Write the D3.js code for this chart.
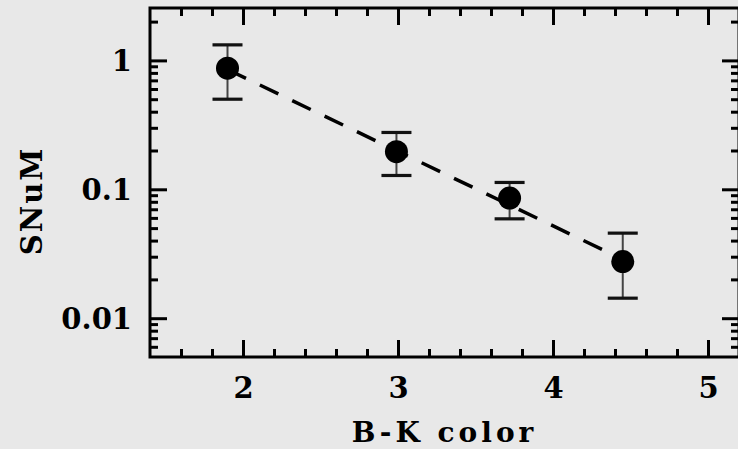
<!DOCTYPE html>
<html>
<head>
<meta charset="utf-8">
<script src="https://cdn.jsdelivr.net/npm/d3@7"></script>
<style>
  html, body { margin: 0; padding: 0; background: #e8e8e8; }
  svg { display: block; }
  .lbl { font-family: "DejaVu Serif", serif; font-weight: bold; fill: #000; }
</style>
</head>
<body>
<svg id="chart" width="738" height="449"></svg>
<script>
// SN rate per unit mass versus galaxy B-K colour
const colorBK = [1.9, 2.99, 3.72, 4.45];
const snum    = [0.87, 0.196, 0.0855, 0.0275];
const errHi   = [1.32, 0.276, 0.113, 0.0457];
const errLo   = [0.50, 0.128, 0.059, 0.0143];

// straight-line fit (log SNuM vs colour)
const fitX = [1.9, 4.45];
const fitY = [0.85, 0.0286];

const xMajor = [2, 3, 4, 5];
const xTickLabels = ["2", "3", "4", "5"];
const yMajor = [0.01, 0.1, 1];
const yTickLabels = ["0.01", "0.1", "1"];

const xLabel = "B-K color";
const yLabel = "SNuM";

(function draw() {
  const W = 738, H = 449;
  const mLeft = 150, mRight = 739, mTop = 8, mBottom = 357;

  const svg = d3.select("#chart");
  svg.append("rect").attr("width", W).attr("height", H).attr("fill", "#e8e8e8");

  const x = d3.scaleLinear().domain([1.4, 5.2]).range([mLeft, mRight]);
  const y = d3.scaleLog().domain([0.005, 2.55]).range([mBottom, mTop]);

  // minor tick positions
  const xMinor = d3.range(1.6, 5.2, 0.2).map(v => +v.toFixed(1)).filter(v => !xMajor.includes(v));
  const yMinor = [];
  [0.001, 0.01, 0.1, 1].forEach(d => {
    for (let k = 2; k <= 9; k++) {
      const v = +(d * k).toPrecision(3);
      if (v > 0.005 && v < 2.55) yMinor.push(v);
    }
  });

  const MAJ = 17, MIN = 8;

  function styleAxis(g) {
    g.select(".domain").remove();
    g.selectAll(".tick line").attr("stroke", "#000").attr("stroke-width", 3);
  }

  // bottom axis
  const gB = svg.append("g").attr("transform", `translate(0,${mBottom})`);
  gB.append("g").call(d3.axisBottom(x).tickValues(xMajor).tickSize(-MAJ)
      .tickFormat((d, i) => xTickLabels[i]))
    .call(styleAxis)
    .call(g => g.selectAll("text").attr("class", "lbl").attr("font-size", 29)
      .attr("dy", null).attr("y", 41));
  gB.append("g").call(d3.axisBottom(x).tickValues(xMinor).tickSize(-MIN).tickFormat(""))
    .call(styleAxis);

  // top axis
  const gT = svg.append("g").attr("transform", `translate(0,${mTop})`);
  gT.append("g").call(d3.axisTop(x).tickValues(xMajor).tickSize(-MAJ).tickFormat("")).call(styleAxis);
  gT.append("g").call(d3.axisTop(x).tickValues(xMinor).tickSize(-MIN).tickFormat("")).call(styleAxis);

  // left axis
  const gL = svg.append("g").attr("transform", `translate(${mLeft},0)`);
  gL.append("g").call(d3.axisLeft(y).tickValues(yMajor).tickSize(-MAJ)
      .tickFormat((d, i) => yTickLabels[i]))
    .call(styleAxis)
    .call(g => g.selectAll("text").attr("class", "lbl").attr("font-size", 29)
      .attr("dy", "0.36em").attr("x", -18));
  gL.append("g").call(d3.axisLeft(y).tickValues(yMinor).tickSize(-MIN).tickFormat(""))
    .call(styleAxis);

  // right axis
  const gR = svg.append("g").attr("transform", `translate(${mRight},0)`);
  gR.append("g").call(d3.axisRight(y).tickValues(yMajor).tickSize(-MAJ).tickFormat("")).call(styleAxis);
  gR.append("g").call(d3.axisRight(y).tickValues(yMinor).tickSize(-MIN).tickFormat("")).call(styleAxis);

  // frame
  svg.append("rect")
    .attr("x", mLeft).attr("y", mTop)
    .attr("width", mRight - mLeft).attr("height", mBottom - mTop)
    .attr("fill", "none").attr("stroke", "#000").attr("stroke-width", 3);

  // axis titles
  svg.append("text").attr("class", "lbl")
    .attr("x", (mLeft + mRight) / 2).attr("y", 442)
    .attr("text-anchor", "middle").attr("font-size", 28)
    .attr("letter-spacing", 4)
    .text(xLabel);

  svg.append("text").attr("class", "lbl")
    .attr("transform", `translate(42,201) rotate(-90)`)
    .attr("text-anchor", "middle").attr("font-size", 29)
    .attr("letter-spacing", 2)
    .text(yLabel);

  // fitted relation
  const fitData = fitX.map((v, i) => [v, fitY[i]]);
  svg.append("path")
    .datum(fitData)
    .attr("d", d3.line().x(d => x(d[0])).y(d => y(d[1])))
    .attr("fill", "none").attr("stroke", "#000")
    .attr("stroke-width", 3.5)
    .attr("stroke-dasharray", "20.5 15.4");

  // error bars
  const pts = colorBK.map((c, i) => ({ c, v: snum[i], hi: errHi[i], lo: errLo[i] }));
  const eb = svg.append("g");
  eb.selectAll("line.stem").data(pts).join("line")
    .attr("class", "stem")
    .attr("x1", d => x(d.c)).attr("x2", d => x(d.c))
    .attr("y1", d => y(d.hi)).attr("y2", d => y(d.lo))
    .attr("stroke", "#444").attr("stroke-width", 2);
  const CAP = 15;
  ["hi", "lo"].forEach(k => {
    eb.selectAll("line.cap-" + k).data(pts).join("line")
      .attr("class", "cap-" + k)
      .attr("x1", d => x(d.c) - CAP).attr("x2", d => x(d.c) + CAP)
      .attr("y1", d => y(d[k])).attr("y2", d => y(d[k]))
      .attr("stroke", "#111").attr("stroke-width", 3.2);
  });

  // data points
  svg.append("g").selectAll("circle").data(pts).join("circle")
    .attr("cx", d => x(d.c)).attr("cy", d => y(d.v))
    .attr("r", 11.5).attr("fill", "#000");
})();
</script>
</body>
</html>
